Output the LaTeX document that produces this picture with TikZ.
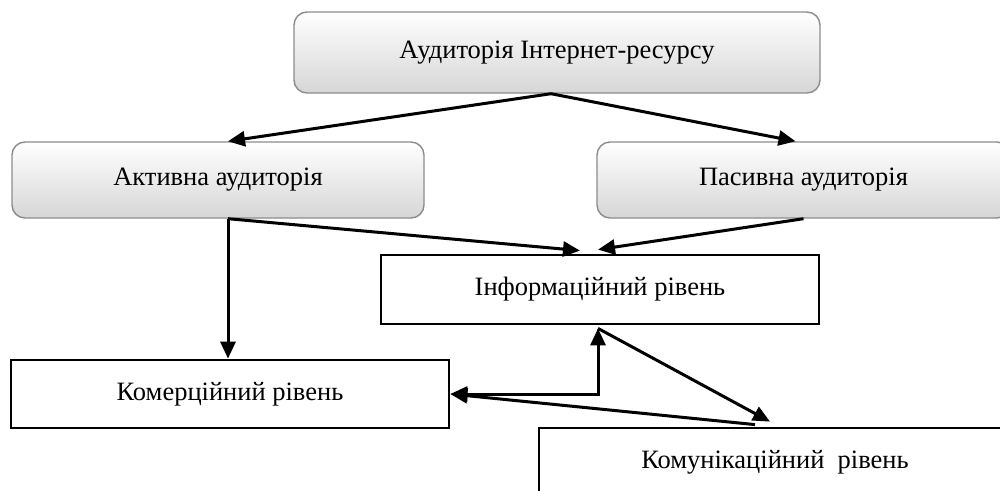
\documentclass[tikz,border=0pt]{standalone}
\usepackage{fontspec}
\setmainfont{Liberation Serif}
\usetikzlibrary{arrows.meta,calc}
\begin{document}
\begin{tikzpicture}[x=1pt,y=-1pt,
  font=\fontsize{26.5}{30}\selectfont,
  grad/.style={draw={rgb,255:red,140;green,140;blue,140}, line width=1.4pt, rounded corners=13pt,
    top color=white, bottom color={rgb,255:red,214;green,214;blue,214}, inner sep=0pt},
  plain/.style={draw=black, line width=2.8pt, fill=white, inner sep=0pt},
  arr/.style={line width=3pt, -{Triangle[length=17pt,width=15pt]}},
  arrs/.style={line width=3pt, {Triangle[length=17pt,width=15pt]}-{Triangle[length=17pt,width=15pt]}},
  arrl/.style={line width=3pt, {Triangle[length=17pt,width=15pt]}-}]
\useasboundingbox (0,0) rectangle (1000,490);
\clip (0,0) rectangle (1000,490);
\fill[white] (0,0) rectangle (1000,490);
\node[grad, minimum width=526pt, minimum height=81pt] (top) at (557,52.5) {\raisebox{3pt}{Аудиторія Інтернет-ресурсу}};
\node[grad, minimum width=412pt, minimum height=76pt] (act) at (218,180) {\raisebox{5pt}{Активна аудиторія}};
\node[grad, minimum width=413pt, minimum height=76pt] (pas) at (803.5,180) {Пасивна аудиторія};
\node[plain, minimum width=438pt, minimum height=69pt] (info) at (600,289.5) {\raisebox{4pt}{Інформаційний рівень}};
\node[plain, minimum width=438pt, minimum height=68pt] (com) at (230,394) {\raisebox{5pt}{Комерційний рівень}};
\node[plain, minimum width=472pt, minimum height=69pt] (kom) at (775,462.5) {Комунікаційний\ \ рівень};
\draw[arr] ([xshift=-6pt]top.south) -- ([xshift=10pt]act.north);
\draw[arr] ([xshift=-6pt]top.south) -- ([xshift=-8pt]pas.north);
\draw[arr] ([xshift=10pt]act.south) -- ([xshift=10pt]act.south |- com.north);
\draw[arr] ([xshift=10pt]act.south) -- ([xshift=-20pt,yshift=3pt]info.north);
\draw[arr] (pas.south) -- ([xshift=-2pt,yshift=4pt]info.north);
\draw[arrs] (com.east) -| ([xshift=-2pt,yshift=-3pt]info.south);
\draw[arr] ([xshift=-2pt,yshift=-3pt]info.south) -- ([xshift=-5pt,yshift=5pt]kom.north);
\draw[arrl] (com.east) -- ([xshift=-20pt,yshift=2pt]kom.north);
\end{tikzpicture}
\end{document}
